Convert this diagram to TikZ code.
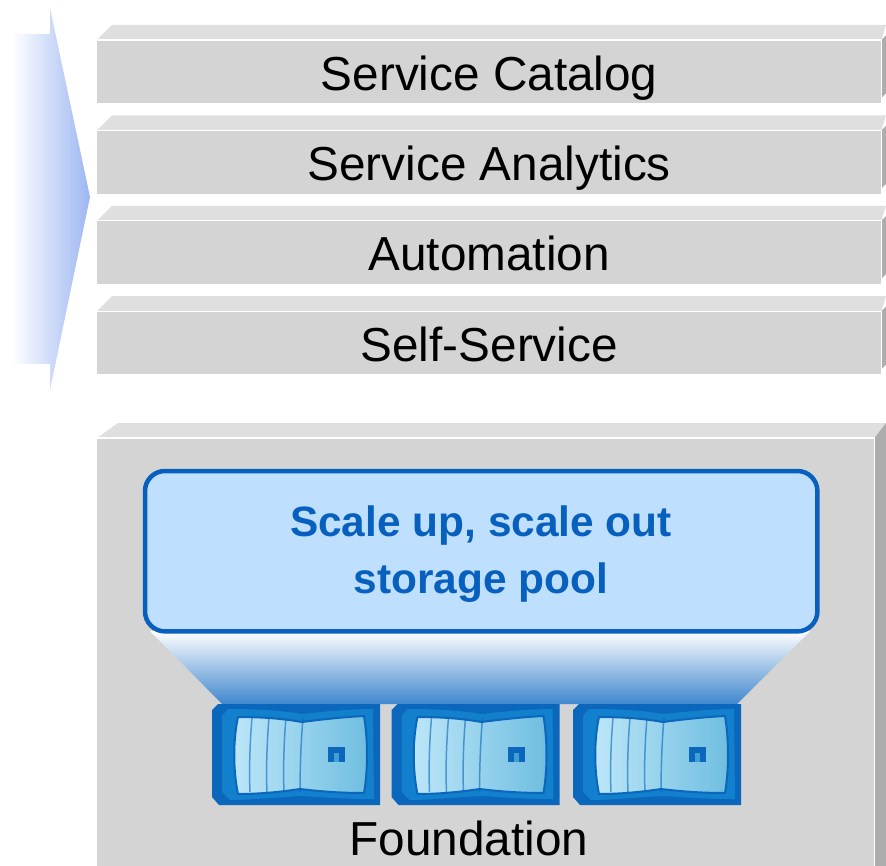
\documentclass[tikz,border=0pt]{standalone}
\usepackage{fontspec}
\setmainfont{Liberation Sans}
\usetikzlibrary{positioning}
\definecolor{barfront}{HTML}{D4D4D4}
\definecolor{bartop}{HTML}{DFDFDF}
\definecolor{barside}{HTML}{ADADAD}
\definecolor{poolfill}{HTML}{BFDFFF}
\definecolor{poolline}{HTML}{0860BE}
\definecolor{funnelblue}{HTML}{3F87CE}
\definecolor{arrowblue}{HTML}{9DB6F2}
\definecolor{devdark}{HTML}{0A67BC}
\definecolor{devmid}{HTML}{1280CC}
\definecolor{screenlight}{HTML}{BDE6F8}
\definecolor{screendeep}{HTML}{6FBEE0}
\tikzset{
	barbox/.style={fill=barfront,anchor=north west,inner sep=0pt,minimum width=784pt,minimum height=63pt,text height=40pt,text depth=3pt,font=\fontsize{47.7}{50}\selectfont},
	barlabel/.style={font=\fontsize{47.7}{50}\selectfont,inner sep=0pt},
	poollabel/.style={font=\fontsize{42.4}{45}\selectfont\bfseries,text=poolline,inner sep=0pt},
}
\begin{document}
\begin{tikzpicture}[x=1pt,y=-1pt]
	\useasboundingbox (0,0) rectangle (886,866);
	\clip (0,0) rectangle (886,866);
	% arrow
	\shade[left color=white,right color=arrowblue,shading angle=90] (12,34) -- (50,34) -- (50,8) -- (90,197) -- (50,390) -- (50,364) -- (12,364) -- cycle;
	% bars
	\node[barbox] (catalog) at (97,40) {Service Catalog};
	\node[barbox,below=27pt of catalog] (analytics) {Service Analytics};
	\node[barbox,below=27pt of analytics] (automation) {Automation};
	\node[barbox,below=27pt of automation] (selfservice) {Self-Service};
	\foreach \bar in {catalog,analytics,automation,selfservice} {
		\fill[bartop] (\bar.north west) -- ++(15,-15) -- ++(774,0) -- (\bar.north east) -- cycle;
		\fill[barside] (\bar.north east) -- ++(5,-5) -- ++(0,58) -- ++(-5,5) -- cycle;
		\draw[white,line width=1.2pt] (\bar.north west) -- (\bar.north east) -- (\bar.south east);
	}
	% foundation
	\node[fill=barfront,anchor=north west,inner sep=0pt,minimum width=777pt,minimum height=428pt] (foundation) at (97,438) {};
	\fill[bartop] (foundation.north west) -- ++(21,-15) -- (886,423) -- (foundation.north east) -- cycle;
	\fill[barside] (foundation.north east) -- (886,423) -- (886,866) -- (foundation.south east) -- cycle;
	\draw[white,line width=1.2pt] (foundation.north west) -- (foundation.north east) -- (foundation.south east);
	% funnel
	\node[anchor=north west,inner sep=0pt,minimum width=672pt,minimum height=160pt] (pool) at (145,471) {};
	\shade[top color=white,bottom color=funnelblue] (150,631) -- (810,631) -- (737,704) -- (222,704) -- cycle;
	\draw[fill=poolfill,draw=poolline,line width=4.5pt,rounded corners=20pt] (pool.north west) rectangle (pool.south east);
	\node[poollabel] (scale) at (481,526) {Scale up, scale out};
	\node[poollabel] (storage) at (481,583) {storage pool};
	% devices
	\foreach \dx in {0,179.5,361} {
		\begin{scope}[xshift=\dx pt]
			\fill[devdark] (212,710) -- (218,704) -- (380,704) -- (380,805) -- (219,805) -- (212,797) -- cycle;
			\fill[devmid] (222,716) -- (228,709) .. controls (270,709) and (290,712) .. (302,714) .. controls (320,712) and (350,709) .. (373,709) -- (374,799) .. controls (340,799) and (320,797) .. (302,796) .. controls (280,797) and (250,800) .. (230,800) -- (222,792) -- cycle;
			\shade[left color=screenlight,right color=screendeep,draw=devdark,line width=2pt] (238,717) .. controls (265,717) and (285,719) .. (302,722) .. controls (325,719) and (345,717) .. (364,716) .. controls (368,740) and (368,770) .. (364,793) .. controls (345,793) and (325,792) .. (300,789) .. controls (280,792) and (260,794) .. (238,794) .. controls (233,770) and (233,740) .. (238,717) -- cycle;
			\foreach \lx/\ly in {252/250,269/267,286/284,303/300}
				\draw[devdark,line width=1.5pt,opacity=.6] (\lx,718) .. controls (\lx-2,740) and (\lx-3,770) .. (\ly,792);
			\fill[devdark] (328,747) rectangle (345,762);
			\fill[devmid!50!screendeep] (334,753) rectangle (339,762);
		\end{scope}
	}
	\node[barlabel] (foundationlabel) at (469,838) {Foundation};
\end{tikzpicture}
\end{document}
